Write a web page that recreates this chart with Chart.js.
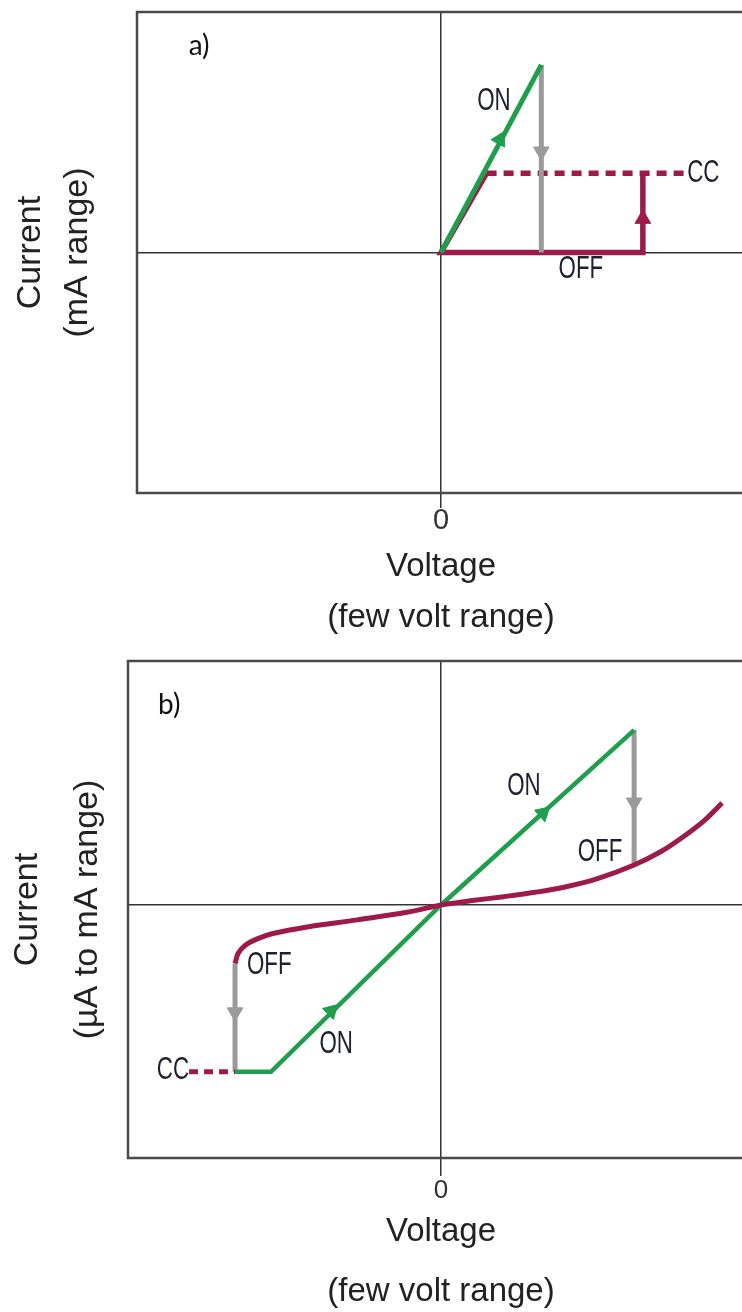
<!DOCTYPE html>
<html>
<head>
<meta charset="utf-8">
<script src="https://cdn.jsdelivr.net/npm/chart.js@4.4.1/dist/chart.umd.min.js"></script>
<style>
  html, body { margin: 0; padding: 0; background: #ffffff; overflow: hidden; }
  #wrap { position: relative; width: 742px; height: 1312px; overflow: hidden; background: #ffffff; }
  canvas { position: absolute; left: 0; }
  #chartA { top: 0; }
  #chartB { top: 650px; }
</style>
</head>
<body>
<div id="wrap">
  <canvas id="chartA" width="760" height="650"></canvas>
  <canvas id="chartB" width="770" height="700"></canvas>
</div>
<script>
// ---------- panel a) : switching with a compliance current ----------
const onPathA   = [{x: 0, y: 0}, {x: 0.33, y: 0.78}];
const offDropA  = [{x: 0.33, y: 0.78}, {x: 0.33, y: 0}];
const resetA    = [{x: 0.15, y: 0.33}, {x: 0, y: 0}, {x: 0.664, y: 0}, {x: 0.664, y: 0.33}];
const ccLevelA  = [{x: 0.15, y: 0.33}, {x: 0.81, y: 0.33}];
const greenArrowsA   = [{x: 0.194, y: 0.47, dx: 0.33, dy: 0.78}];
const grayArrowsA    = [{x: 0.33, y: 0.42, dx: 0, dy: -1}];
const crimsonArrowsA = [{x: 0.664, y: 0.14, dx: 0, dy: 1}];
const labelsA = [
  {text: 'a)',  x: -0.83, y: 0.86, align: 'left', kind: 'panel'},
  {text: 'ON',  x: 0.174, y: 0.63,  align: 'center'},
  {text: 'OFF', x: 0.46,  y: -0.07, align: 'center'},
  {text: 'CC',  x: 0.81,  y: 0.33,  align: 'left'}
];
const yTitleA = ['Current', '(mA range)'];

// ---------- panel b) : bipolar switching ----------
const onPathB   = [{x: -0.658, y: -0.684}, {x: -0.543, y: -0.684}, {x: 0, y: 0}, {x: 0.617, y: 0.717}];
const offCurveB = [
  {x: -0.658, y: -0.24}, {x: -0.648, y: -0.198}, {x: -0.625, y: -0.165},
  {x: -0.585, y: -0.138}, {x: -0.537, y: -0.117}, {x: -0.428, y: -0.09},
  {x: -0.268, y: -0.061}, {x: -0.109, y: -0.03}, {x: 0, y: 0},
  {x: 0.1, y: 0.018}, {x: 0.2, y: 0.034}, {x: 0.3, y: 0.052},
  {x: 0.4, y: 0.075}, {x: 0.5, y: 0.108}, {x: 0.617, y: 0.164},
  {x: 0.70, y: 0.217}, {x: 0.773, y: 0.279}, {x: 0.84, y: 0.345}, {x: 0.898, y: 0.418}
];
const offDropRightB = [{x: 0.617, y: 0.717}, {x: 0.617, y: 0.164}];
const offDropLeftB  = [{x: -0.658, y: -0.24}, {x: -0.658, y: -0.684}];
const ccLevelB      = [{x: -0.805, y: -0.684}, {x: -0.658, y: -0.684}];
const greenArrowsB  = [
  {x: 0.326, y: 0.377, dx: 0.617, dy: 0.717},
  {x: -0.351, y: -0.434, dx: 0.543, dy: 0.684}
];
const grayArrowsB = [
  {x: 0.617, y: 0.42, dx: 0, dy: -1},
  {x: -0.658, y: -0.44, dx: 0, dy: -1}
];
const labelsB = [
  {text: 'b)',  x: -0.904, y: 0.82,  align: 'left', kind: 'panel'},
  {text: 'ON',  x: 0.265,  y: 0.484, align: 'center'},
  {text: 'OFF', x: 0.508,  y: 0.217, align: 'center'},
  {text: 'OFF', x: -0.62,  y: -0.246, align: 'left'},
  {text: 'ON',  x: -0.335, y: -0.57, align: 'center'},
  {text: 'CC',  x: -0.805, y: -0.68, align: 'right'}
];
const yTitleB = ['Current', '(\u00B5A to mA range)'];

// shared axis content
const xTitle = ['Voltage', '(few volt range)'];
const axisTicks = [0];

const GREEN = '#1f9e4c';
const CRIMSON = '#9e1a4b';
const GRAY = '#9a9a9a';
const AXIS = '#333333';
const FRAME = '#4a4a4a';
const SANS = "'Liberation Sans', Arial, sans-serif";
const PANEL = "Lato, 'Open Sans', sans-serif";

// rotate a triangle marker so it points along its path direction
function headingRotation(ctx) {
  const p = ctx.raw;
  if (!p) return 0;
  const xs = ctx.chart.scales.x, ys = ctx.chart.scales.y;
  const sx = xs.getPixelForValue(p.x + p.dx) - xs.getPixelForValue(p.x);
  const sy = ys.getPixelForValue(p.y + p.dy) - ys.getPixelForValue(p.y);
  return Math.atan2(sx, -sy) * 180 / Math.PI;
}

function pathSet(data, color, width, order, extra) {
  return Object.assign({
    data, showLine: true, borderColor: color, backgroundColor: color,
    borderWidth: width, pointRadius: 0, fill: false, order
  }, extra || {});
}

function arrowSet(data, color, order) {
  return {
    data, showLine: false, pointStyle: 'triangle', pointRadius: 9,
    pointBackgroundColor: color, pointBorderColor: color, pointBorderWidth: 1,
    pointRotation: headingRotation, order
  };
}

// box round the plot area (its right edge lies outside the page)
const framePlugin = {
  id: 'frame',
  beforeDatasetsDraw(chart) {
    const {ctx, chartArea: a} = chart;
    ctx.save();
    ctx.strokeStyle = FRAME;
    ctx.lineWidth = 2.5;
    ctx.strokeRect(a.left, a.top, a.right - a.left, a.bottom - a.top);
    ctx.restore();
  }
};

// ON / OFF / CC annotations (condensed lettering) and the panel letter
const textPlugin = {
  id: 'panelText',
  afterDatasetsDraw(chart, args, opts) {
    const {ctx} = chart;
    const xs = chart.scales.x, ys = chart.scales.y;
    (opts.labels || []).forEach(l => {
      const px = xs.getPixelForValue(l.x), py = ys.getPixelForValue(l.y);
      ctx.save();
      ctx.translate(px, py);
      if (l.kind === 'panel') {
        ctx.font = '28px ' + PANEL;
        ctx.fillStyle = '#111111';
      } else {
        ctx.scale(0.72, 1);
        ctx.font = '31px ' + SANS;
        ctx.fillStyle = '#1e2030';
      }
      ctx.textAlign = l.align;
      ctx.textBaseline = 'middle';
      ctx.fillText(l.text, 0, 0);
      ctx.restore();
    });
  }
};

function buildChart(id, cfg) {
  return new Chart(document.getElementById(id), {
    type: 'scatter',
    data: {datasets: cfg.datasets},
    options: {
      responsive: false,
      animation: false,
      events: [],
      layout: {padding: {top: cfg.padTop, right: cfg.padRight, left: 0, bottom: 0}},
      plugins: {
        legend: {display: false},
        tooltip: {enabled: false},
        panelText: {labels: cfg.labels}
      },
      scales: {
        x: {
          type: 'linear', min: -1, max: 1,
          afterBuildTicks: s => { s.ticks = axisTicks.map(v => ({value: v})); },
          afterFit: s => { s.height = cfg.xHeight; },
          grid: {color: AXIS, lineWidth: 1.5, drawTicks: true, tickLength: cfg.tickLen},
          border: {display: false},
          ticks: {
            color: '#333333', padding: 0, maxRotation: 0, autoSkip: false,
            font: {family: SANS, size: cfg.tickSize, lineHeight: cfg.tickLH}
          },
          title: {
            display: true, text: xTitle, color: '#222222',
            font: {family: SANS, size: 33, lineHeight: cfg.xTitleLH},
            padding: {top: 0, bottom: cfg.xTitlePad}
          }
        },
        y: {
          type: 'linear', min: cfg.yMin, max: cfg.yMax,
          afterBuildTicks: s => { s.ticks = axisTicks.map(v => ({value: v})); },
          afterFit: s => { s.width = cfg.yWidth; },
          grid: {color: AXIS, lineWidth: 1.5, drawTicks: false},
          border: {display: false},
          ticks: {display: false},
          title: {
            display: true, text: cfg.yTitle, color: '#222222',
            font: {family: SANS, size: 34, lineHeight: cfg.yTitleLH},
            padding: {top: cfg.yTitlePad, bottom: 0}
          }
        }
      }
    },
    plugins: [framePlugin, textPlugin]
  });
}

buildChart('chartA', {
  datasets: [
    arrowSet(greenArrowsA, GREEN, 0),
    pathSet(onPathA, GREEN, 5, 1),
    arrowSet(grayArrowsA, GRAY, 2),
    pathSet(offDropA, GRAY, 5, 3),
    arrowSet(crimsonArrowsA, CRIMSON, 4),
    pathSet(resetA, CRIMSON, 5.5, 5),
    pathSet(ccLevelA, CRIMSON, 5.5, 6, {borderDash: [10, 7]})
  ],
  labels: labelsA,
  yTitle: yTitleA,
  yMin: -1, yMax: 1,
  padTop: 12, padRight: 15,
  yWidth: 137, xHeight: 157,
  tickLen: 15, tickSize: 29, tickLH: '26px',
  xTitleLH: '51px', xTitlePad: 7,
  yTitleLH: '47px', yTitlePad: 7.5
});

buildChart('chartB', {
  datasets: [
    pathSet(offCurveB, CRIMSON, 5, 0, {tension: 0.35}),
    pathSet(ccLevelB, CRIMSON, 5, 1, {borderDash: [9, 6]}),
    arrowSet(greenArrowsB, GREEN, 2),
    pathSet(onPathB, GREEN, 4.5, 3),
    arrowSet(grayArrowsB, GRAY, 4),
    pathSet(offDropRightB, GRAY, 5, 5),
    pathSet(offDropLeftB, GRAY, 5, 6)
  ],
  labels: labelsB,
  yTitle: yTitleB,
  yMin: -1.037, yMax: 1,
  padTop: 11, padRight: 16,
  yWidth: 128, xHeight: 192,
  tickLen: 18, tickSize: 26, tickLH: '30px',
  xTitleLH: '60px', xTitlePad: 28.4,
  yTitleLH: '60px', yTitlePad: -2
});
</script>
</body>
</html>
